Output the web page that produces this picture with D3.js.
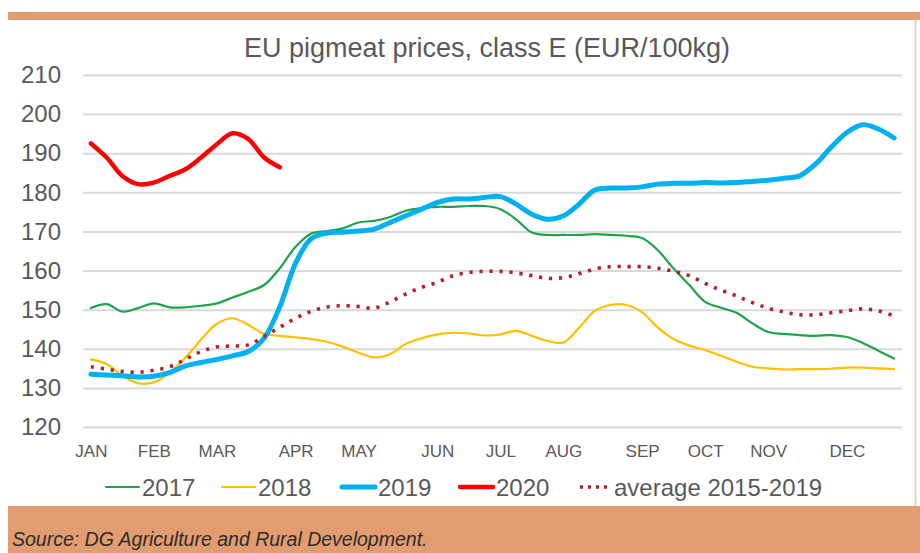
<!DOCTYPE html>
<html><head><meta charset="utf-8">
<script src="https://cdn.jsdelivr.net/npm/d3@7"></script>
<style>
html,body{margin:0;padding:0;background:#fff;}
svg{display:block;font-family:"Liberation Sans",Arial,sans-serif;}
</style></head>
<body><svg id="c" width="920" height="553"></svg>
<script>
// ---- data ----
const weekLabels = ["JAN","","","","FEB","","","","MAR","","","","","APR","","","","MAY","","","","","JUN","","","","JUL","","","","AUG","","","","","SEP","","","","OCT","","","","NOV","","","","","DEC","","",""];
const yTicks = [120,130,140,150,160,170,180,190,200,210];
const seriesNames = ["2017","2018","2019","2020","average 2015-2019"];
const s2017 = [150.4,151.4,149.5,150.4,151.6,150.6,150.6,151.0,151.6,153.1,154.6,156.3,160.6,166.1,169.5,170.1,170.8,172.3,172.7,173.7,175.3,176.0,176.3,176.3,176.5,176.5,175.7,173.1,169.7,169.1,169.1,169.1,169.3,169.1,168.9,168.3,165.2,160.5,156.3,152.0,150.5,149.2,146.5,144.3,143.8,143.5,143.3,143.5,143.0,141.5,139.5,137.5];
const s2018 = [137.3,136.1,133.1,131.2,131.4,133.9,137.7,142.4,146.4,147.8,146.1,143.8,143.3,142.9,142.5,141.8,140.5,139.0,137.8,138.6,141.3,142.7,143.7,144.1,143.9,143.4,143.7,144.6,143.3,142.0,141.6,145.4,149.7,151.2,151.2,149.3,145.4,142.5,140.8,139.7,138.2,136.7,135.4,135.0,134.7,134.8,134.8,134.9,135.2,135.2,135.0,134.8];
const s2019 = [133.5,133.3,133.1,132.8,133.0,133.9,135.6,136.5,137.3,138.2,139.3,142.7,150.8,161.9,168.2,169.6,169.8,170.1,170.6,172.3,174.0,175.7,177.4,178.3,178.3,178.7,178.9,177.0,174.4,173.1,174.0,177.0,180.6,181.1,181.1,181.4,182.1,182.3,182.3,182.5,182.4,182.5,182.8,183.1,183.6,184.2,187.2,191.5,195.3,197.3,196.2,193.9];
const s2020 = [192.5,188.9,184.2,182.1,182.5,184.2,185.9,188.9,192.3,195.1,193.6,188.9,186.4];
const sAvg = [135.4,134.8,134.2,134.0,134.5,135.4,137.3,139.3,140.5,140.7,141.0,143.2,145.5,147.8,149.6,150.7,151.0,150.8,150.4,152.0,154.0,155.7,157.0,158.7,159.5,159.8,159.8,159.4,158.7,158.0,158.2,159.2,160.4,161.0,161.0,161.0,160.6,159.8,158.7,156.7,155.0,153.5,151.8,150.4,149.4,148.7,148.7,149.2,149.7,150.2,149.7,148.4];

// ---- styles ----
const styles = [
  {color:"#1fa34a", width:2.2},
  {color:"#ffc000", width:2.2},
  {color:"#00b0f0", width:5},
  {color:"#ff0000", width:4.5},
  {color:"#b3202a", width:3.6, dash:"3.2 6.8"}
];
const allSeries = [s2017,s2018,s2019,s2020,sAvg];

const svg = d3.select("#c");
const W = 920, H = 553;
const band = "#e39c70";
const textCol = "#595959";

// frame
svg.append("rect").attr("x",0).attr("y",0).attr("width",W).attr("height",H).attr("fill","#fff");
svg.append("rect").attr("x",8).attr("y",12).attr("width",W-8).attr("height",8).attr("fill",band);
svg.append("line").attr("x1",915.5).attr("x2",915.5).attr("y1",20).attr("y2",506).attr("stroke","#f3cdb6").attr("stroke-width",2);
svg.append("rect").attr("x",8).attr("y",506).attr("width",W-8).attr("height",H-506).attr("fill",band);
svg.append("text").attr("x",12).attr("y",546).attr("font-size",19.5).attr("font-style","italic")
  .attr("fill","#2b2b2b").text("Source: DG Agriculture and Rural Development.");

// title
svg.append("text").attr("x",487).attr("y",57).attr("text-anchor","middle").attr("font-size",27)
  .attr("fill",textCol).text("EU pigmeat prices, class E (EUR/100kg)");

// scales
const pL = 83, pR = 902, pT = 75, pB = 427;
const x = d3.scalePoint().domain(d3.range(weekLabels.length)).range([pL,pR]).padding(0.5);
const y = d3.scaleLinear().domain([120,210]).range([pB,pT]);

// y axis + grid
const gy = svg.append("g").attr("transform",`translate(${pL},0)`)
  .call(d3.axisLeft(y).tickValues(yTicks).tickSize(-(pR-pL)).tickPadding(22).tickFormat(d3.format("d")));
gy.select(".domain").remove();
gy.selectAll(".tick line").attr("stroke","#d9d9d9").attr("stroke-width",2);
gy.selectAll(".tick text").attr("font-size",24).attr("fill",textCol).attr("font-family","Liberation Sans, Arial, sans-serif");

// x axis
const labeled = d3.range(weekLabels.length).filter(i => weekLabels[i] !== "");
const gx = svg.append("g").attr("transform",`translate(0,${pB})`)
  .call(d3.axisBottom(x).tickValues(labeled).tickSize(0).tickPadding(18).tickFormat(i => weekLabels[i]));
gx.select(".domain").remove();
gx.selectAll(".tick text").attr("font-size",17).attr("fill",textCol).attr("dy","0.71em").attr("font-family","Liberation Sans, Arial, sans-serif");

// lines
const line = d3.line().x((d,i)=>x(i)).y(d=>y(d)).curve(d3.curveCatmullRom.alpha(0.5));
allSeries.forEach((s,k)=>{
  const st = styles[k];
  const p = svg.append("path").datum(s).attr("d",line).attr("fill","none")
    .attr("stroke",st.color).attr("stroke-width",st.width).attr("stroke-linejoin","round");
  if (st.dash) p.attr("stroke-dasharray",st.dash); else p.attr("stroke-linecap","round");
});

// legend
const legX = [106,222,342,460,578];
const lg = svg.append("g");
seriesNames.forEach((n,k)=>{
  const st = styles[k];
  const g = lg.append("g").attr("transform",`translate(${legX[k]},487)`);
  const ln = g.append("line").attr("x1",0).attr("x2",33).attr("y1",0).attr("y2",0)
    .attr("stroke",st.color).attr("stroke-width",st.width);
  if (st.dash) ln.attr("stroke-dasharray","3 5").attr("x1",2); else ln.attr("stroke-linecap","round");
  g.append("text").attr("x",36).attr("y",0).attr("dy","0.36em").attr("font-size",24).attr("fill",textCol).text(n);
});
</script></body></html>
